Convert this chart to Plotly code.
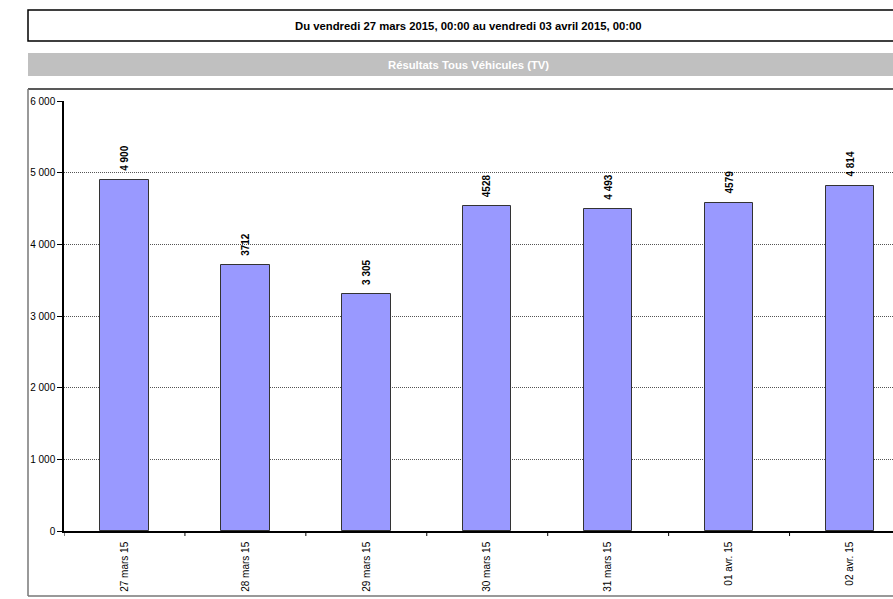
import plotly.graph_objects as go

categories = ["27 mars 15", "28 mars 15", "29 mars 15", "30 mars 15", "31 mars 15", "01 avr. 15", "02 avr. 15"]
values = [4900, 3712, 3305, 4528, 4493, 4579, 4814]
value_labels = ["4 900", "3712", "3 305", "4528", "4 493", "4579", "4 814"]
y_ticks = [0, 1000, 2000, 3000, 4000, 5000, 6000]
y_tick_labels = ["0", "1 000", "2 000", "3 000", "4 000", "5 000", "6 000"]

title_text = "Du vendredi 27 mars 2015, 00:00 au vendredi 03 avril 2015, 00:00"
band_text = "Résultats Tous Véhicules (TV)"

W, H = 893, 599
L, R, T, B = 64, 0, 101, 68
PW, PH = W - L - R, H - T - B

def px(x):
    return (x - L) / PW

def py(y):
    return 1 - (y - T) / PH

FONT = "Liberation Sans, Arial, sans-serif"

fig = go.Figure()
fig.add_trace(go.Bar(
    x=list(range(len(categories))),
    y=values,
    width=0.40,
    marker=dict(color="#9999FF", line=dict(color="#333333", width=1)),
    hoverinfo="skip",
))

n = len(categories)
# data labels placed from the data values, slightly above each bar
for i, (v, lab) in enumerate(zip(values, value_labels)):
    fig.add_annotation(x=i, y=v, xref="x", yref="y", text=lab, textangle=-90,
                       showarrow=False, xanchor="center", yanchor="bottom", yshift=7,
                       font=dict(family=FONT, size=10, color="#000", weight="bold"))

right_cut = (910.5 - 893) / 121.0
fig.update_layout(
    width=W, height=H,
    margin=dict(l=L, r=R, t=T, b=B, pad=0),
    paper_bgcolor="white", plot_bgcolor="white",
    showlegend=False,
    bargap=0,
    font=dict(family=FONT, size=10, color="#000"),
    xaxis=dict(
        range=[-0.5, n - 0.5 - right_cut],
        tickmode="array",
        tickvals=list(range(n)),
        ticktext=categories,
        tickangle=-90,
        ticks="",
        ticklabelstandoff=5,
        showgrid=False,
        showline=True, linecolor="#000", linewidth=1.5,
        tickfont=dict(family=FONT, size=10, color="#000"),
        zeroline=False,
        fixedrange=True,
    ),
    yaxis=dict(
        range=[0, 6000],
        tickmode="array",
        tickvals=y_ticks,
        ticktext=y_tick_labels,
        ticks="outside", ticklen=5, tickcolor="#000", tickwidth=1,
        showgrid=True, gridcolor="#555555", griddash="1px,1px", gridwidth=1,
        showline=True, linecolor="#000", linewidth=1.5,
        tickfont=dict(family=FONT, size=10, color="#000"),
        zeroline=False,
        fixedrange=True,
    ),
)

shapes = []
# category-boundary ticks on x axis
for i in range(n):
    xb = i + 0.5
    shapes.append(dict(type="line", xref="x", yref="paper",
                       x0=xb, x1=xb, y0=0, y1=py(536),
                       line=dict(color="#000", width=1)))
shapes.append(dict(type="line", xref="x", yref="paper",
                   x0=-0.5, x1=-0.5, y0=0, y1=py(536),
                   line=dict(color="#000", width=1)))
# title box
shapes.append(dict(type="rect", xref="paper", yref="paper",
                   x0=px(28), x1=px(900), y0=py(41), y1=py(10),
                   line=dict(color="#000", width=1.5), fillcolor="rgba(0,0,0,0)", layer="above"))
# gray band
shapes.append(dict(type="rect", xref="paper", yref="paper",
                   x0=px(28), x1=px(900), y0=py(76), y1=py(53),
                   line=dict(width=0), fillcolor="#C0C0C0", layer="below"))
# chart frame
shapes.append(dict(type="line", xref="paper", yref="paper",
                   x0=px(28), x1=px(900), y0=py(89), y1=py(89),
                   line=dict(color="#222", width=1.5)))
shapes.append(dict(type="line", xref="paper", yref="paper",
                   x0=px(28), x1=px(28), y0=py(89), y1=py(596),
                   line=dict(color="#777", width=1.5)))
shapes.append(dict(type="line", xref="paper", yref="paper",
                   x0=px(28), x1=px(900), y0=py(596), y1=py(596),
                   line=dict(color="#777", width=1.5)))
fig.update_layout(shapes=shapes)

fig.add_annotation(xref="paper", yref="paper", x=px(468), y=py(25.5),
                   text=title_text, showarrow=False, xanchor="center", yanchor="middle",
                   font=dict(family=FONT, size=11.3, color="#000", weight="bold"))
fig.add_annotation(xref="paper", yref="paper", x=px(468), y=py(64.5),
                   text=band_text, showarrow=False, xanchor="center", yanchor="middle",
                   font=dict(family=FONT, size=11.3, color="#FFFFFF", weight="bold"))

fig.write_html("out.html", config={"displayModeBar": False})
